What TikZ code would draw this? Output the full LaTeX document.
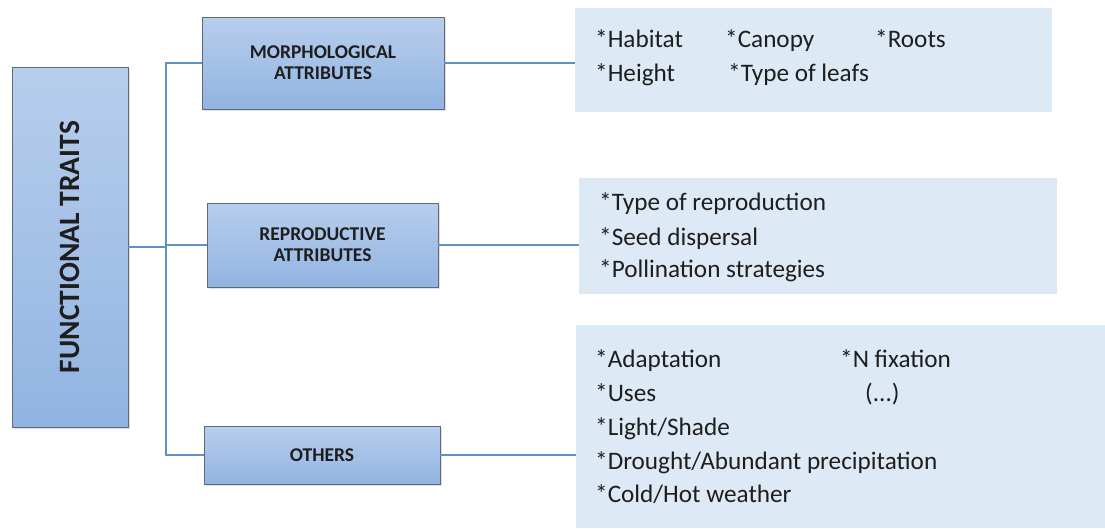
\documentclass[tikz,border=0pt]{standalone}
\usepackage{fontspec}
\setmainfont{Carlito}
\usetikzlibrary{positioning,calc,shadows}

\definecolor{boxtop}{RGB}{183,206,236}
\definecolor{boxbot}{RGB}{146,180,226}
\definecolor{boxline}{RGB}{95,105,120}
\definecolor{listfill}{RGB}{222,233,246}
\definecolor{linkcol}{RGB}{96,145,198}
\definecolor{inktext}{RGB}{30,30,30}

\tikzset{
  attrbox/.style={draw=boxline, line width=0.8pt, top color=boxtop, bottom color=boxbot,
    drop shadow={shadow xshift=1.5pt, shadow yshift=-1.5pt, opacity=0.25},
    align=center, font=\fontsize{19.5}{21}\selectfont\bfseries, text=inktext, inner sep=0pt},
  listbox/.style={fill=listfill, inner sep=0pt},
  item/.style={anchor=base west, inner sep=0pt, text=inktext, font=\fontsize{25.2}{28}\selectfont},
  link/.style={draw=linkcol, line width=1.3pt}
}

\begin{document}
\begin{tikzpicture}[x=1pt,y=-1pt]
\useasboundingbox (0,0) rectangle (1105,528);

\node[attrbox, rotate=90, minimum width=360, minimum height=116,
  font=\fontsize{29.5}{32}\selectfont\bfseries] (traits) at (70,247) {FUNCTIONAL TRAITS};

\node[attrbox, minimum width=242, minimum height=92] (morph) at (323,63) {MORPHOLOGICAL\\ATTRIBUTES};
\node[attrbox, minimum width=231, minimum height=84] (repro) at (322.5,245) {REPRODUCTIVE\\ATTRIBUTES};
\node[attrbox, minimum width=236, minimum height=58] (others) at (322,455) {OTHERS};

% lists
\node[listbox, minimum width=477, minimum height=104] (morphlist) at (813.5,60) {};
\node[listbox, minimum width=478, minimum height=116] (reprolist) at (818,236) {};
\node[listbox, minimum width=529, minimum height=203] (otherlist) at (840.5,426.5) {};

\node[item] (habitat) at (595,47) {*Habitat};
\node[item] (canopy) at (725,47) {*Canopy};
\node[item] (roots) at (875,47) {*Roots};
\node[item] (height) at (595,81) {*Height};
\node[item] (leafs) at (728,81) {*Type of leafs};

\node[item] (reprotype) at (599,210) {*Type of reproduction};
\node[item] (seed) at (599,245) {*Seed dispersal};
\node[item] (pollin) at (599,277) {*Pollination strategies};

\node[item] (adapt) at (595,367) {*Adaptation};
\node[item] (nfix) at (840,367) {*N fixation};
\node[item] (uses) at (595,401) {*Uses};
\node[item] (etc) at (865,401) {(...)};
\node[item] (light) at (595,435) {*Light/Shade};
\node[item] (drought) at (595,469) {*Drought/Abundant precipitation};
\node[item] (cold) at (595,502) {*Cold/Hot weather};

% Connecting lines
\coordinate (trunk) at (166,247);
\draw[link] (traits.south) -- (trunk);
\draw[link] (morph.west) -| (trunk) |- (others.west);
\draw[link] (trunk) -- (trunk |- repro.west) -- (repro.west);
\draw[link] (morph.east) -- (morph.east -| morphlist.west);
\draw[link] (repro.east) -- (repro.east -| reprolist.west);
\draw[link] (others.east) -- (others.east -| otherlist.west);

\end{tikzpicture}
\end{document}
